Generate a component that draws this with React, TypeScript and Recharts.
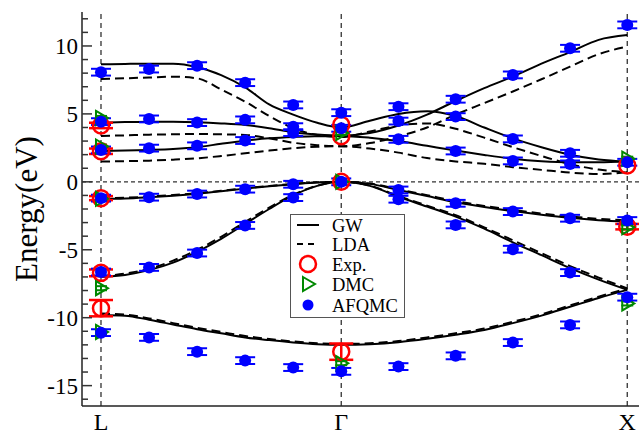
import React from "react";
import {
  ComposedChart,
  Line,
  Scatter,
  ErrorBar,
  XAxis,
  YAxis,
  ReferenceLine,
  Legend,
} from "recharts";

const FONT = "'Liberation Serif', 'Times New Roman', serif";

// k-path L -> Gamma -> X
const kPath = [
  0, 0.084, 0.168, 0.252, 0.336, 0.42, 0.504, 0.588, 0.672, 0.756, 0.84,
  0.94, 1.04, 1.14, 1.24, 1.34, 1.44, 1.54, 1.64, 1.74, 1.84,
];
const kTicks = [0, 0.84, 1.84];
const kLabels = ["L", "Γ", "X"];
const energyTicks = [
  -16, -15, -14, -13, -12, -11, -10, -9, -8, -7, -6, -5, -4, -3, -2, -1, 0,
  1, 2, 3, 4, 5, 6, 7, 8, 9, 10, 11, 12,
];
const majorTicks = [-15, -10, -5, 0, 5, 10];

// GW bands (solid)
const gwV1 = [-9.8, -9.85, -10.15, -10.5, -10.85, -11.15, -11.45, -11.65, -11.82, -11.95, -12.0, -11.95, -11.8, -11.55, -11.25, -10.9, -10.4, -9.85, -9.2, -8.55, -7.95];
const gwV2 = [-7.0, -6.85, -6.5, -5.95, -5.15, -4.2, -3.1, -2.0, -1.0, -0.3, 0, -0.3, -1.1, -1.82, -2.56, -3.45, -4.45, -5.4, -6.35, -7.2, -7.95];
const gwV3 = [-1.25, -1.22, -1.13, -1.02, -0.88, -0.7, -0.5, -0.33, -0.18, -0.05, 0, -0.15, -0.6, -1.05, -1.5, -1.85, -2.15, -2.42, -2.65, -2.82, -2.93];
const gwC1 = [2.27, 2.3, 2.35, 2.42, 2.55, 2.8, 3.03, 3.2, 3.3, 3.35, 3.38, 3.25, 3.0, 2.65, 2.3, 1.98, 1.7, 1.52, 1.44, 1.44, 1.49];
const gwC2 = [4.36, 4.4, 4.43, 4.42, 4.38, 4.3, 4.18, 3.95, 3.65, 3.48, 3.4, 3.6, 4.15, 4.95, 5.95, 6.9, 7.75, 8.7, 9.55, 10.45, 10.8];
const gwC3 = [8.65, 8.68, 8.7, 8.7, 8.45, 7.85, 6.95, 5.7, 4.95, 4.35, 4.0, 4.5, 5.0, 5.2, 4.85, 4.0, 3.2, 2.55, 2.0, 1.65, 1.49];

// LDA bands (dashed)
const ldaV1 = [-9.7, -9.77, -10.05, -10.4, -10.75, -11.05, -11.35, -11.57, -11.75, -11.88, -11.93, -11.88, -11.72, -11.45, -11.15, -10.8, -10.3, -9.75, -9.1, -8.45, -7.85];
const ldaV2 = [-6.95, -6.75, -6.4, -5.8, -5.0, -4.05, -2.95, -1.9, -0.95, -0.28, 0, -0.28, -1.05, -1.75, -2.45, -3.35, -4.3, -5.25, -6.2, -7.05, -7.85];
const ldaV3 = [-1.2, -1.17, -1.08, -0.97, -0.83, -0.66, -0.47, -0.3, -0.16, -0.04, 0, -0.13, -0.55, -0.98, -1.42, -1.77, -2.07, -2.33, -2.55, -2.72, -2.83];
const ldaC1 = [1.49, 1.52, 1.56, 1.63, 1.73, 1.9, 2.1, 2.3, 2.48, 2.58, 2.62, 2.45, 2.15, 1.75, 1.5, 1.33, 1.08, 0.88, 0.68, 0.57, 0.72];
const ldaC2 = [3.38, 3.42, 3.47, 3.5, 3.52, 3.5, 3.45, 3.2, 2.88, 2.7, 2.62, 2.85, 3.35, 4.0, 4.95, 5.8, 6.65, 7.55, 8.48, 9.4, 9.95];
const ldaC3 = [7.57, 7.62, 7.68, 7.74, 7.62, 6.8, 5.9, 4.85, 3.95, 3.45, 3.3, 3.7, 4.15, 4.3, 3.9, 3.25, 2.55, 1.9, 1.3, 0.9, 0.7];

const gwBands = [gwV1, gwV2, gwV3, gwC1, gwC2, gwC3];
const ldaBands = [ldaV1, ldaV2, ldaV3, ldaC1, ldaC2, ldaC3];

// AFQMC [k, E]
const afqmcPts = [
  [0, 8.07], [0, 4.43], [0, 2.35], [0, -1.2], [0, -6.64], [0, -11.1],
  [0.168, 8.3], [0.168, 4.63], [0.168, 2.48], [0.168, -1.13], [0.168, -6.3], [0.168, -11.45],
  [0.336, 8.55], [0.336, 4.36], [0.336, 2.65], [0.336, -0.9], [0.336, -5.24], [0.336, -12.5],
  [0.504, 7.3], [0.504, 4.56], [0.504, 3.04], [0.504, -0.54], [0.504, -3.21], [0.504, -13.16],
  [0.672, 5.66], [0.672, 4.06], [0.672, 3.62], [0.672, -0.18], [0.672, -1.16], [0.672, -13.67],
  [0.84, 5.09], [0.84, 3.94], [0.84, 0.0], [0.84, -13.95],
  [1.04, 5.53], [1.04, 4.47], [1.04, 3.13], [1.04, -0.6], [1.04, -1.28], [1.04, -13.6],
  [1.24, 6.08], [1.24, 4.8], [1.24, 2.27], [1.24, -1.58], [1.24, -3.17], [1.24, -12.81],
  [1.44, 7.87], [1.44, 3.16], [1.44, 1.54], [1.44, -2.19], [1.44, -4.96], [1.44, -11.83],
  [1.64, 9.83], [1.64, 2.1], [1.64, 1.32], [1.64, -2.68], [1.64, -6.68], [1.64, -10.53],
  [1.84, 11.55], [1.84, 1.44], [1.84, -2.85], [1.84, -8.49],
];
const afqmcErr = 0.25;

// Experiment [k, E, err]
const expPts = [
  [0, 4.15, 0.2], [0, 2.25, 0.2], [0, -1.2, 0.15], [0, -6.7, 0.25], [0, -9.3, 0.6],
  [0.84, 4.2, 0], [0.84, 3.35, 0], [0.84, 0, 0], [0.84, -12.5, 0.6],
  [1.84, 1.2, 0], [1.84, -3.3, 0.2],
];

// DMC [k, E]
const dmcPts = [
  [0, 4.7], [0, 2.6], [0, -1.25], [0, -7.83], [0, -11.05],
  [0.84, 3.6], [0.84, 0], [0.84, -13.35],
  [1.84, 1.7], [1.84, -3.35], [1.84, -8.95],
];
const dmcErr = 0.15;

const legendNames = ["GW", "LDA", "Exp.", "DMC", "AFQMC"];

const toLine = (band: number[]) => kPath.map((k, i) => ({ k, e: band[i] }));

const EnergyTick = ({ x, y, payload }: any) => {
  const major = payload.value % 5 === 0;
  return (
    <g>
      <line x1={x} x2={x + (major ? 10 : 6)} y1={y} y2={y} stroke="#333" strokeWidth={1.5} />
      {major && (
        <text x={x - 4} y={y + 8} textAnchor="end" fontSize={23} fill="#000" fontFamily={FONT}>
          {payload.value}
        </text>
      )}
    </g>
  );
};

const RightTick = ({ x, y }: any) => (
  <line x1={x} x2={x - 10} y1={y} y2={y} stroke="#333" strokeWidth={1.5} />
);

const KTick = ({ x, y, payload }: any) => (
  <text x={x} y={y + 24} textAnchor="middle" fontSize={24} fill="#000" fontFamily={FONT}>
    {kLabels[kTicks.indexOf(payload.value)]}
  </text>
);

const AfqmcDot = (p: any) => <circle cx={p.cx} cy={p.cy} r={6} fill="#0000ff" />;
const ExpRing = (p: any) => (
  <circle cx={p.cx} cy={p.cy} r={8} fill="none" stroke="#ff0000" strokeWidth={2.5} />
);
const DmcTri = (p: any) => (
  <path
    d={`M${p.cx - 5},${p.cy - 7}L${p.cx + 7},${p.cy}L${p.cx - 5},${p.cy + 7}Z`}
    fill="none"
    stroke="#008800"
    strokeWidth={2}
  />
);

const LegendBox = () => (
  <div
    style={{
      width: 115,
      height: 104,
      border: "1.5px solid #555",
      background: "#fff",
      boxSizing: "border-box",
    }}
  >
    <svg width={112} height={101} style={{ display: "block" }}>
      {legendNames.map((name, i) => {
        const cy = [10, 29, 49, 69, 90][i];
        return (
          <g key={name}>
            {i === 0 && <line x1={6} x2={28} y1={cy} y2={cy} stroke="#000" strokeWidth={2} />}
            {i === 1 && (
              <line x1={6} x2={28} y1={cy} y2={cy} stroke="#000" strokeWidth={2} strokeDasharray="6 5" />
            )}
            {i === 2 && <ExpRing cx={17} cy={cy} />}
            {i === 3 && <DmcTri cx={17} cy={cy} />}
            {i === 4 && <circle cx={17} cy={cy} r={5.5} fill="#0000ff" />}
            <text x={41} y={cy + 6.5} fontSize={18.5} fontFamily={FONT} fill="#000">
              {name}
            </text>
          </g>
        );
      })}
    </svg>
  </div>
);

export default function App() {
  const afqmcData = afqmcPts.map(([k, e]) => ({ k, e, err: afqmcErr }));
  const expErrData = expPts.filter((p) => p[2] > 0).map(([k, e, err]) => ({ k, e, err }));
  const expNoErrData = expPts.filter((p) => p[2] === 0).map(([k, e]) => ({ k, e }));
  const dmcData = dmcPts.map(([k, e]) => ({ k, e, err: dmcErr }));

  return (
    <div
      style={{
        position: "absolute",
        left: 0,
        top: 0,
        width: 639,
        height: 434,
        overflow: "hidden",
        background: "#fff",
      }}
    >
      <ComposedChart
        width={660}
        height={434}
        margin={{ top: 12, right: 15, bottom: 0, left: 0 }}
        style={{ fontFamily: FONT }}
      >
        <XAxis
          type="number"
          dataKey="k"
          domain={[-0.0664, 1.902]}
          allowDataOverflow
          ticks={kTicks}
          interval={0}
          height={28}
          tickSize={0}
          tickMargin={0}
          tickLine={false}
          tick={<KTick />}
          axisLine={{ stroke: "#222", strokeWidth: 1.5 }}
        />
        <XAxis
          xAxisId="top"
          orientation="top"
          type="number"
          domain={[-0.0664, 1.902]}
          allowDataOverflow
          height={0}
          tick={false}
          tickLine={false}
          axisLine={{ stroke: "#222", strokeWidth: 1.5 }}
        />
        <YAxis
          type="number"
          domain={[-16.5, 12.5]}
          allowDataOverflow
          ticks={energyTicks}
          interval={0}
          width={82}
          tickSize={0}
          tickMargin={0}
          tickLine={false}
          tick={<EnergyTick />}
          axisLine={{ stroke: "#222", strokeWidth: 1.5 }}
          label={() => (
            <text
              transform="translate(26,209) rotate(-90)"
              textAnchor="middle"
              dominantBaseline="central"
              fontSize={31}
              fontFamily={FONT}
              fill="#000"
            >
              Energy(eV)
            </text>
          )}
        />
        <YAxis
          yAxisId="r"
          orientation="right"
          type="number"
          domain={[-16.5, 12.5]}
          allowDataOverflow
          ticks={majorTicks}
          interval={0}
          width={0}
          tickSize={0}
          tickMargin={0}
          tickLine={false}
          tick={<RightTick />}
          axisLine={{ stroke: "#222", strokeWidth: 1.5 }}
        />

        {kTicks.map((k) => (
          <ReferenceLine key={k} x={k} stroke="#333" strokeWidth={1.3} strokeDasharray="5 4" />
        ))}
        <ReferenceLine y={0} stroke="#333" strokeWidth={1.2} strokeDasharray="4 3" />

        {ldaBands.map((b, i) => (
          <Line
            key={`lda${i}`}
            data={toLine(b)}
            dataKey="e"
            type="monotone"
            stroke="#000"
            strokeWidth={2}
            strokeDasharray="9 5"
            dot={false}
            activeDot={false}
            legendType="none"
            isAnimationActive={false}
          />
        ))}
        {gwBands.map((b, i) => (
          <Line
            key={`gw${i}`}
            data={toLine(b)}
            dataKey="e"
            type="monotone"
            stroke="#000"
            strokeWidth={2}
            dot={false}
            activeDot={false}
            legendType="none"
            isAnimationActive={false}
          />
        ))}

        <Scatter data={expErrData} dataKey="e" shape={ExpRing} legendType="none" isAnimationActive={false}>
          <ErrorBar dataKey="err" direction="y" width={12} stroke="#ff0000" strokeWidth={2.5} />
        </Scatter>
        <Scatter data={expNoErrData} dataKey="e" shape={ExpRing} legendType="none" isAnimationActive={false} />
        <Scatter data={dmcData} dataKey="e" shape={DmcTri} legendType="none" isAnimationActive={false}>
          <ErrorBar dataKey="err" direction="y" width={6} stroke="#008800" strokeWidth={2} />
        </Scatter>
        <Scatter data={afqmcData} dataKey="e" shape={AfqmcDot} legendType="none" isAnimationActive={false}>
          <ErrorBar dataKey="err" direction="y" width={10} stroke="#0000ff" strokeWidth={2} />
        </Scatter>

        <Legend
          layout="vertical"
          align="center"
          verticalAlign="middle"
          wrapperStyle={{ left: 290, top: 214, width: 115 }}
          content={() => <LegendBox />}
        />
      </ComposedChart>
    </div>
  );
}
